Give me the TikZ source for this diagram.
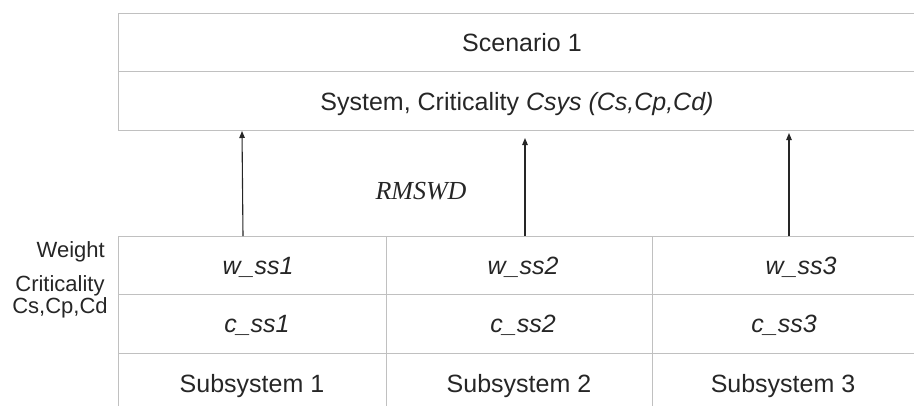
\documentclass[tikz,border=0pt]{standalone}
\usepackage{fontspec}
\setmainfont{Liberation Sans}
\newfontfamily\timesfont{Liberation Serif}
\usetikzlibrary{arrows.meta}
\definecolor{gridgray}{RGB}{192,192,192}
\definecolor{ink}{RGB}{38,38,38}
\begin{document}
\begin{tikzpicture}[x=1pt,y=-1pt,
  cell/.style={draw=gridgray, line width=1.3pt, inner sep=0pt, anchor=north west},
  txt/.style={text=ink, inner sep=0pt, anchor=base, font=\fontsize{25pt}{30pt}\selectfont},
  itxt/.style={txt, font=\fontsize{25pt}{30pt}\selectfont\itshape},
  side/.style={text=ink, inner sep=0pt, font=\fontsize{22pt}{22pt}\selectfont},
  uparrow/.style={draw=ink, line width=1.1pt, -{Triangle[length=7pt,width=5.5pt]}}]
\useasboundingbox (0,0) rectangle (914,405);
\clip (0,0) rectangle (914,405);

% system block
\node[cell, minimum width=804pt, minimum height=58pt] (scen) at (118,13) {};
\node[cell, minimum width=804pt, minimum height=59pt] (sys) at (118,71) {};
\node[txt] (scenT) at (522,51) {Scenario 1};
\node[txt] (sysT) at (517,110) {System, Criticality \textit{Csys (Cs,Cp,Cd)}};

% subsystem table
\node[cell, minimum width=268pt, minimum height=58pt] (w1) at (118,236) {};
\node[cell, minimum width=266pt, minimum height=58pt] (w2) at (386,236) {};
\node[cell, minimum width=268pt, minimum height=58pt] (w3) at (652,236) {};
\node[cell, minimum width=268pt, minimum height=59pt] (c1) at (118,294) {};
\node[cell, minimum width=266pt, minimum height=59pt] (c2) at (386,294) {};
\node[cell, minimum width=268pt, minimum height=59pt] (c3) at (652,294) {};
\node[cell, minimum width=268pt, minimum height=59pt] (s1) at (118,353) {};
\node[cell, minimum width=266pt, minimum height=59pt] (s2) at (386,353) {};
\node[cell, minimum width=268pt, minimum height=59pt] (s3) at (652,353) {};

\node[itxt] (w1T) at (258,274) {w\_ss1};
\node[itxt] (w2T) at (523,274) {w\_ss2};
\node[itxt] (w3T) at (801,274) {w\_ss3};
\node[itxt] (c1T) at (257,332) {c\_ss1};
\node[itxt] (c2T) at (523,332) {c\_ss2};
\node[itxt] (c3T) at (784,332) {c\_ss3};
\node[txt] (s1T) at (252,392) {Subsystem 1};
\node[txt] (s2T) at (519,392) {Subsystem 2};
\node[txt] (s3T) at (783,392) {Subsystem 3};

% row labels
\node[side, anchor=base east] (wL) at (105,257) {Weight};
\node[side, anchor=base, align=center] (cL) at (60,313) {Criticality\\[0pt]Cs,Cp,Cd};

% aggregation
\node[text=ink, inner sep=0pt, anchor=base, font=\timesfont\fontsize{26pt}{30pt}\selectfont\itshape] (rm) at (421,199) {RMSWD};
\coordinate (a1s) at (243,236);
\coordinate (a1e) at (242,131);
\coordinate (a2s) at (525,236);
\coordinate (a2e) at (525,138);
\coordinate (a3s) at (789,236);
\coordinate (a3e) at (789,133);
\draw[uparrow] (a1s) -- (a1e);
\draw[uparrow] (a2s) -- (a2e);
\draw[uparrow] (a3s) -- (a3e);
\end{tikzpicture}
\end{document}
